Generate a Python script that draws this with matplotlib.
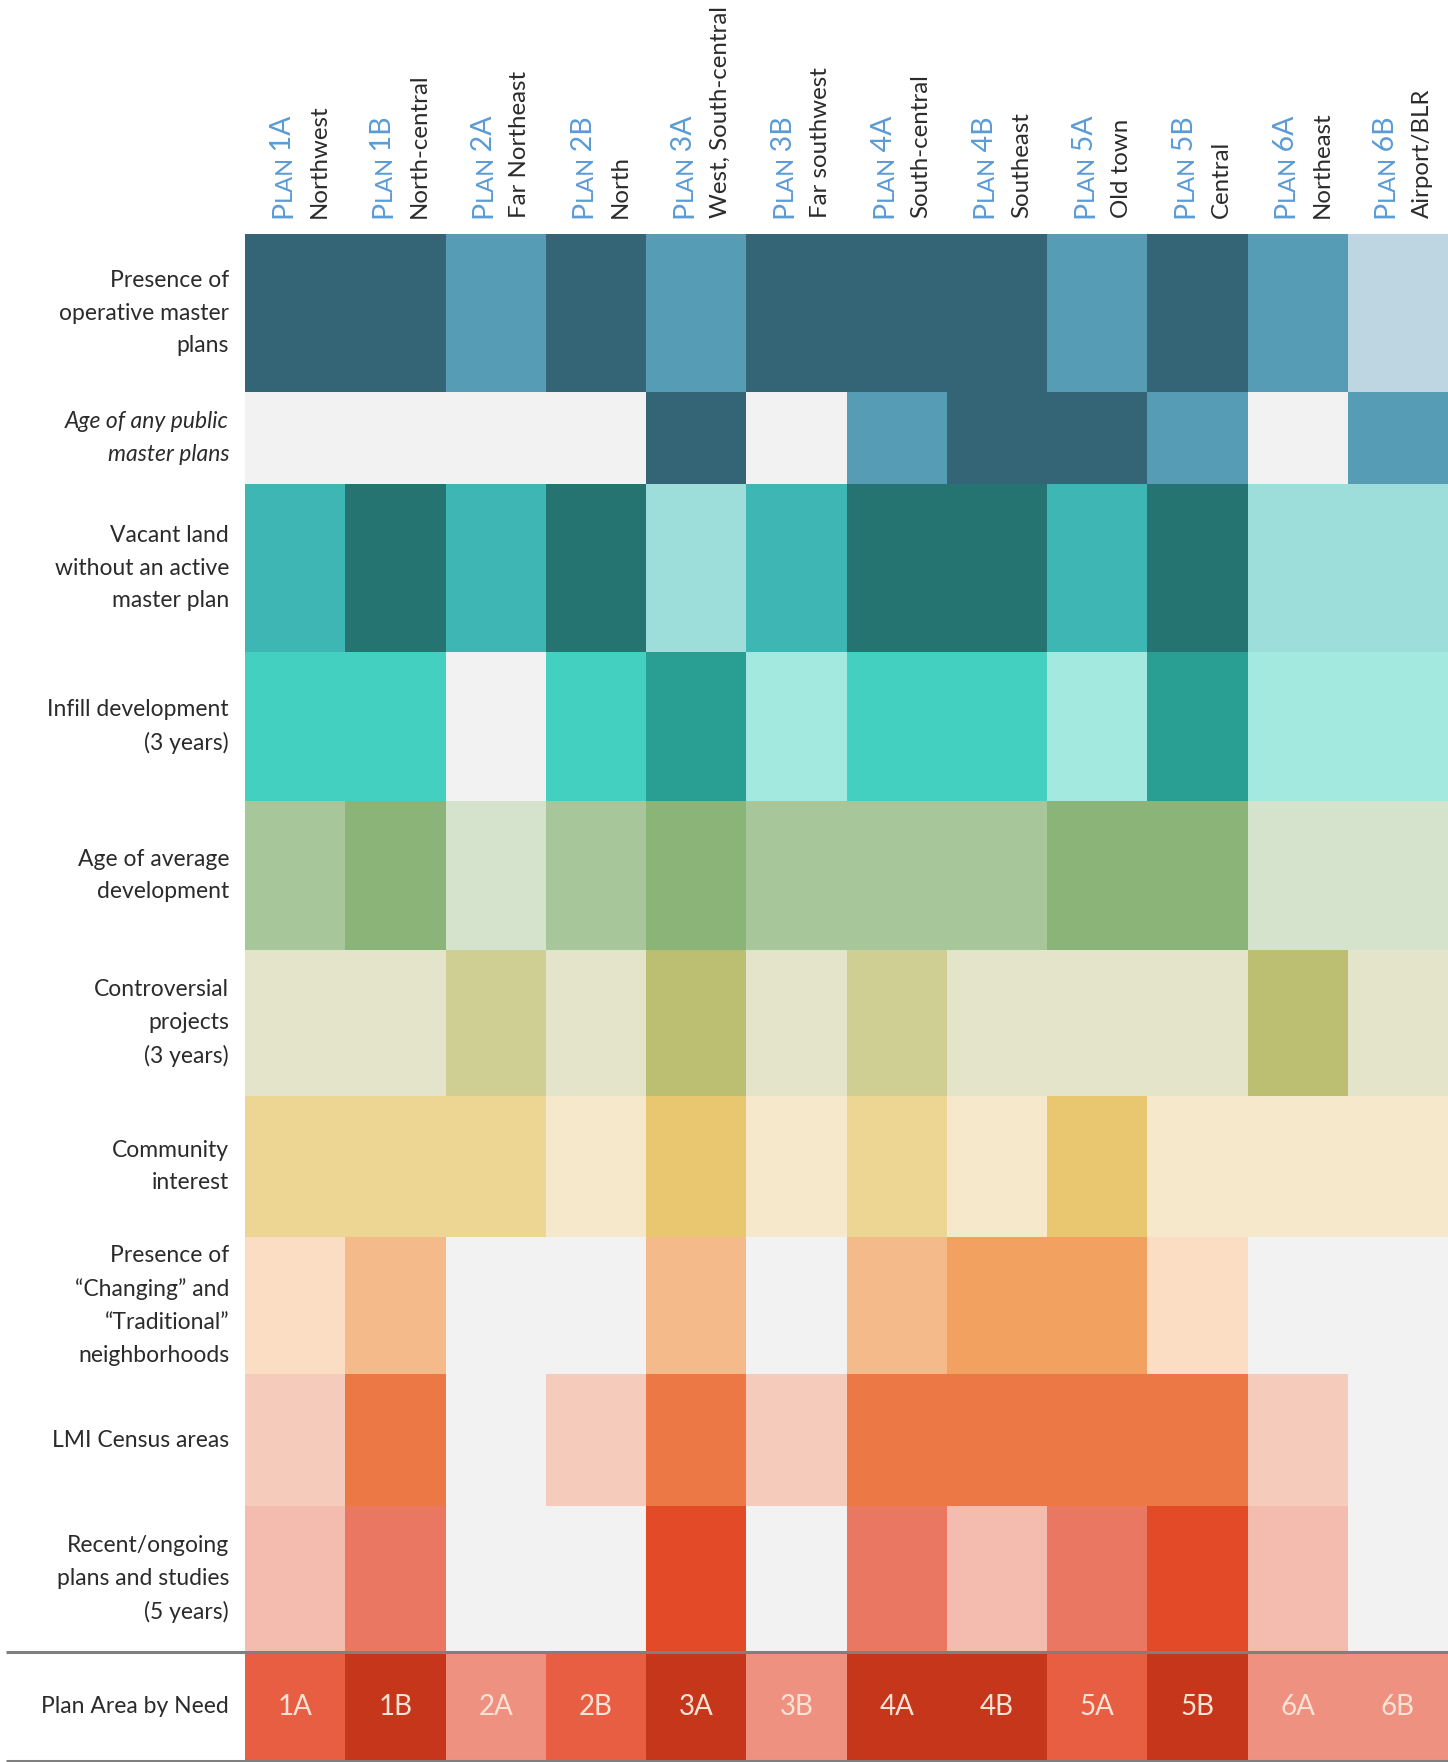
import numpy as np
import matplotlib
matplotlib.use("Agg")
import matplotlib.pyplot as plt
from matplotlib.colors import ListedColormap
from matplotlib.transforms import IdentityTransform

plt.rcParams["font.family"] = ["Lato", "DejaVu Sans"]
plt.rcParams["font.weight"] = "normal"

# plan areas and their districts
plans = ["1A", "1B", "2A", "2B", "3A", "3B", "4A", "4B", "5A", "5B", "6A", "6B"]
regions = ["Northwest", "North-central", "Far Northeast", "North", "West, South-central",
           "Far southwest", "South-central", "Southeast", "Old town", "Central",
           "Northeast", "Airport/BLR"]

# indicator levels: 0 = none, 1 = low, 2 = medium, 3 = high
master_plans = [3, 3, 2, 3, 2, 3, 3, 3, 2, 3, 2, 1]
plan_age = [0, 0, 0, 0, 3, 0, 2, 3, 3, 2, 0, 2]
vacant_land = [2, 3, 2, 3, 1, 2, 3, 3, 2, 3, 1, 1]
infill = [2, 2, 0, 2, 3, 1, 2, 2, 1, 3, 1, 1]
dev_age = [2, 3, 1, 2, 3, 2, 2, 2, 3, 3, 1, 1]
controversial = [1, 1, 2, 1, 3, 1, 2, 1, 1, 1, 3, 1]
community = [2, 2, 2, 1, 3, 1, 2, 1, 3, 1, 1, 1]
neighborhoods = [1, 2, 0, 0, 2, 0, 2, 3, 3, 1, 0, 0]
lmi = [1, 3, 0, 1, 3, 1, 3, 3, 3, 3, 1, 0]
recent_plans = [1, 2, 0, 0, 3, 0, 2, 1, 2, 3, 1, 0]
need = [2, 3, 1, 2, 3, 1, 3, 3, 2, 3, 1, 1]

row_labels = ["Presence of\noperative master\nplans",
              "Age of any public\nmaster plans",
              "Vacant land\nwithout an active\nmaster plan",
              "Infill development\n(3 years)",
              "Age of average\ndevelopment",
              "Controversial\nprojects\n(3 years)",
              "Community\ninterest",
              "Presence of\n\u201cChanging\u201d and\n\u201cTraditional\u201d\nneighborhoods",
              "LMI Census areas",
              "Recent/ongoing\nplans and studies\n(5 years)"]
rows = [master_plans, plan_age, vacant_land, infill, dev_age,
        controversial, community, neighborhoods, lmi, recent_plans]

none = "#F2F2F2"
palettes = [
    [none, "#BED6E1", "#579CB5", "#336577"],
    [none, "#BED6E1", "#579CB5", "#336577"],
    [none, "#9DDEDB", "#3EB6B3", "#267472"],
    [none, "#A3E9E0", "#44D0C1", "#289F92"],
    [none, "#D5E3CC", "#A7C79B", "#8AB478"],
    [none, "#E4E4CB", "#CFCF94", "#BCBF71"],
    [none, "#F6E8CA", "#EDD594", "#E8C770"],
    [none, "#FADDC3", "#F5BA8A", "#F3A160"],
    [none, "#F5CBBC", "#F0A080", "#EB7845"],
    [none, "#F3BCAF", "#EA7761", "#E24A28"],
]
need_palette = [none, "#EE9180", "#E85E43", "#C5361A"]

# layout in pixels (figure is 1448 x 1762 at dpi 100)
W, H = 1448, 1762
edges = [234, 392, 484, 652, 801, 950, 1096, 1237, 1374, 1506, 1652]
need_top, need_bot = 1653, 1760
grid_left = 245
col_w = (W - grid_left) / 12.0

fig = plt.figure(figsize=(W / 100, H / 100), dpi=100)
ax = fig.add_axes([grid_left / W, (H - need_bot) / H, (W - grid_left) / W,
                   (need_bot - edges[0]) / H])
ax.set_xlim(0, 12)
ax.set_ylim(need_bot, edges[0])
ax.axis("off")

label_color = "#2B2B2B"
xe = np.arange(13)
for i, vals in enumerate(rows):
    ax.pcolormesh(xe, [edges[i], edges[i + 1]], np.array([vals]),
                  cmap=ListedColormap(palettes[i]), vmin=-0.5, vmax=3.5,
                  antialiased=False, linewidth=0)
    yc = (edges[i] + edges[i + 1]) / 2
    ax.text(-16 / col_w, yc, row_labels[i], ha="right", va="center",
            fontsize=16.5, color=label_color, linespacing=1.68,
            style="italic" if i == 1 else "normal")

ax.pcolormesh(xe, [need_top, need_bot], np.array([need]),
              cmap=ListedColormap(need_palette), vmin=-0.5, vmax=3.5,
              antialiased=False, linewidth=0)
yc = (need_top + need_bot) / 2
ax.text(-16 / col_w, yc, "Plan Area by Need", ha="right", va="center",
        fontsize=16.5, color=label_color)
for j, p in enumerate(plans):
    ax.text(j + 0.5, yc, p, ha="center", va="center", fontsize=20,
            color="#FDE3D6")

x0 = -(grid_left - 6) / col_w
for yl in [1652, 1761]:
    ax.plot([x0, 12], [yl, yl], color="#7F7F7F", lw=2.2, clip_on=False,
            solid_capstyle="butt")

# rotated column headers, "PLAN" set in small caps
renderer = fig.canvas.get_renderer()
base_y = H - 218
blue = "#5B9BD5"


def put(x, y, s, size, color):
    t = fig.text(x, y, s, transform=IdentityTransform(), rotation=90,
                 rotation_mode="anchor", ha="left", va="baseline",
                 fontsize=size, color=color)
    return t.get_window_extent(renderer).height


for j, p in enumerate(plans):
    cl = grid_left + j * col_w
    y = base_y
    y += put(cl + 46, y, "P", 20.5, blue)
    y += put(cl + 46, y, "LAN", 17, blue)
    put(cl + 46, y, "\u2009" + p, 20.5, blue)
    put(cl + 81, base_y, regions[j], 17.3, label_color)

fig.savefig("out.png", dpi=100, facecolor="white")
